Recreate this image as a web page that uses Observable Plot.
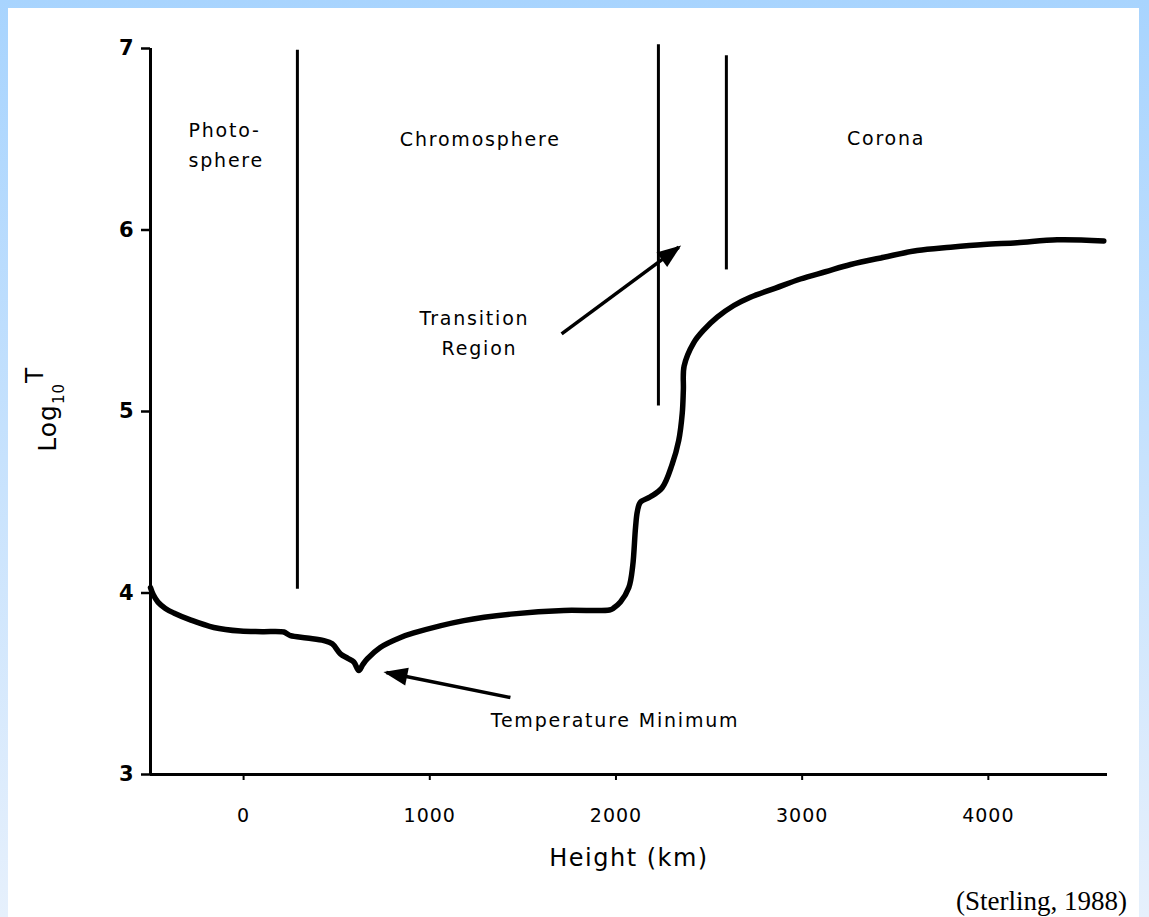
<!DOCTYPE html>
<html>
<head>
<meta charset="utf-8">
<script src="https://cdn.jsdelivr.net/npm/d3@7"></script>
<script src="https://cdn.jsdelivr.net/npm/@observablehq/plot@0.6"></script>
<style>
  html, body { margin: 0; padding: 0; background: #fff; }
  #frame { position: relative; width: 1149px; height: 917px; overflow: hidden;
           background: linear-gradient(to bottom, #a8d4fe, #e6f0fc); }
  #inner { position: absolute; left: 8px; top: 8px; width: 1131px; height: 909px; background: #fff; }
  #chart { position: absolute; left: 0; top: 0; }
  #caption { position: absolute; right: 22px; top: 888px; line-height: 27px;
             font-family: "Liberation Serif", "Times New Roman", serif; font-size: 27px; color: #000; white-space: nowrap; }
  g[aria-label="x-axis tick label"] text { letter-spacing: 1px; }
  g[aria-label="x-axis label"] text { font-size: 24px; letter-spacing: 1.5px; }
  g[aria-label="text"] text { letter-spacing: 1.8px; }
</style>
</head>
<body>
<div id="frame">
  <div id="inner"></div>
  <div id="chart"></div>
  <div id="caption">(Sterling, 1988)</div>
</div>
<script>
// ---- Data ----
const heightKm = [-500, -485, -460, -420, -375, -286, -160, -17, 100, 216, 232, 252, 340, 431, 476, 520, 560, 592, 619, 640, 664, 734, 843, 914, 1183, 1451, 1720, 1965, 1985, 2024, 2069, 2090, 2105, 2115, 2131, 2185, 2248, 2302, 2337, 2356, 2362, 2366, 2418, 2472, 2544, 2633, 2722, 2857, 2991, 3125, 3260, 3439, 3618, 3797, 3975, 4155, 4370, 4620];
const logT =     [4.03, 3.99, 3.95, 3.915, 3.89, 3.852, 3.81, 3.79, 3.787, 3.785, 3.776, 3.765, 3.752, 3.738, 3.72, 3.665, 3.64, 3.62, 3.573, 3.605, 3.637, 3.70, 3.755, 3.78, 3.848, 3.885, 3.904, 3.906, 3.915, 3.95, 4.03, 4.15, 4.36, 4.45, 4.50, 4.53, 4.58, 4.71, 4.84, 4.99, 5.12, 5.25, 5.38, 5.45, 5.52, 5.584, 5.63, 5.68, 5.73, 5.77, 5.81, 5.85, 5.887, 5.905, 5.92, 5.93, 5.946, 5.94];

const xTicks = [0, 1000, 2000, 3000, 4000];
const yTicks = [3, 4, 5, 6, 7];

const dividerX = [289, 2228, 2593];
const dividerLow = [4.02, 5.03, 5.78];
const dividerHigh = [6.99, 7.02, 6.96];

const regionLabels = ["Photo-", "sphere"];
const regionLabelX = [-296, -296];
const regionLabelY = [6.548, 6.383];

const noteLabels = ["Chromosphere", "Corona", "Transition", "Region", "Temperature Minimum"];
const noteLabelX = [1271, 3451, 1240, 1267, 1995];
const noteLabelY = [6.499, 6.504, 5.512, 5.347, 3.2975];

const arrowFromX = [1708, 1433];
const arrowFromY = [5.428, 3.424];
const arrowToX = [2337, 767];
const arrowToY = [5.905, 3.562];

// ---- Tables built from the arrays ----
const profile = heightKm.map((h, i) => ({h, t: logT[i]}));
const dividers = dividerX.map((x, i) => ({x, lo: dividerLow[i], hi: dividerHigh[i]}));
const leftLabels = regionLabels.map((s, i) => ({s, x: regionLabelX[i], y: regionLabelY[i]}));
const centerLabels = noteLabels.map((s, i) => ({s, x: noteLabelX[i], y: noteLabelY[i]}));
const arrows = arrowFromX.map((x1, i) => ({x1, y1: arrowFromY[i], x2: arrowToX[i], y2: arrowToY[i]}));

const plain = d => String(d);

const plot = Plot.plot({
  width: 1149,
  height: 880,
  marginLeft: 150,
  marginRight: 42,
  marginTop: 48,
  marginBottom: 106,
  style: {background: "transparent", fontFamily: "DejaVu Sans", overflow: "visible", color: "#000"},
  x: {domain: [-500, 4640]},
  y: {domain: [3, 7]},
  marks: [
    Plot.axisY({ticks: yTicks, tickFormat: plain, tickSize: 9, tickPadding: 8, fontSize: 21, fontWeight: "bold", label: null, strokeWidth: 2.5}),
    Plot.axisX({ticks: xTicks, tickFormat: plain, tickSize: 6, tickPadding: 28, fontSize: 19, label: "Height (km)", labelArrow: "none", labelAnchor: "center", labelOffset: 91, strokeWidth: 2}),
    Plot.ruleX([-500], {y1: 3, y2: 7, strokeWidth: 3}),
    Plot.ruleY([3], {x1: -500, x2: 4640, strokeWidth: 3}),
    Plot.ruleX(dividers, {x: "x", y1: "lo", y2: "hi", strokeWidth: 3}),
    Plot.line(profile, {x: "h", y: "t", strokeWidth: 5.5, curve: "catmull-rom", strokeLinejoin: "round", strokeLinecap: "round"}),
    Plot.link(arrows, {x1: "x1", y1: "y1", x2: "x2", y2: "y2", strokeWidth: 3.5}),
    Plot.text(leftLabels, {x: "x", y: "y", text: "s", textAnchor: "start", fontSize: 19}),
    Plot.text(centerLabels, {x: "x", y: "y", text: "s", textAnchor: "middle", fontSize: 19})
  ]
});

const svg = d3.select(plot);
const defs = svg.insert("defs", ":first-child");
defs.append("marker")
  .attr("id", "arrowhead")
  .attr("markerUnits", "userSpaceOnUse")
  .attr("viewBox", "-24 -10 28 20")
  .attr("markerWidth", 28)
  .attr("markerHeight", 20)
  .attr("refX", 0)
  .attr("refY", 0)
  .attr("orient", "auto")
  .append("path")
  .attr("d", "M3,0L-21,-9L-21,9Z")
  .attr("fill", "#000");
svg.selectAll('g[aria-label="link"] path').attr("marker-end", "url(#arrowhead)");

// y-axis title with subscript
const yScale = plot.scale("y");
const title = svg.append("text")
  .attr("transform", `translate(56, ${yScale.apply(5.01)}) rotate(-90)`)
  .attr("text-anchor", "middle")
  .attr("font-family", "DejaVu Sans")
  .attr("font-size", 25)
  .attr("letter-spacing", 1)
  .attr("fill", "#000");
title.append("tspan").text("Log");
title.append("tspan").attr("font-size", 15).attr("dy", 8).text("10");
title.append("tspan").attr("dy", -21).text("T");

document.getElementById("chart").appendChild(plot);
</script>
</body>
</html>
